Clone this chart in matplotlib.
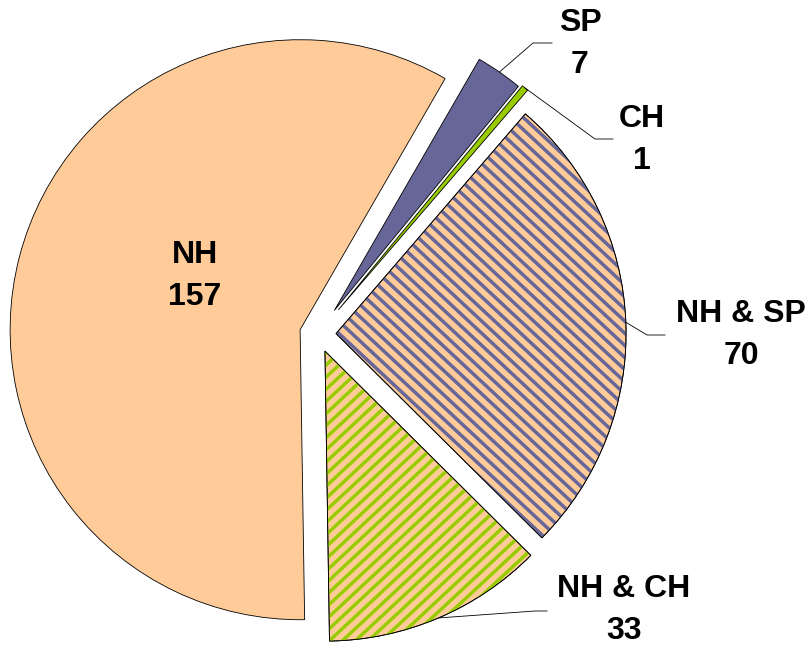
import numpy as np
import matplotlib.pyplot as plt
from matplotlib.patches import Wedge
from matplotlib.collections import LineCollection

plt.rcParams['font.family'] = ['Liberation Sans', 'DejaVu Sans']

# data, clockwise from the top-right
labels = ["SP", "CH", "NH & SP", "NH & CH", "NH"]
counts = [7, 1, 70, 33, 157]
face_colors = ["#666699", "#99CC00", "#FFCC99", "#FFCC99", "#FFCC99"]
stripe_colors = [None, None, "#666699", "#99CC00", None]
stripe_angles = [None, None, -43, 43, None]  # degrees
explode = [0.1, 0.11, 0.063, 0.063, 0.063]  # fraction of radius

W, H = 811, 647
R = 290
CENTER = (317.8, H - 334.3)
STRIPE_STEP = 13.0  # horizontal period in px


def px(p):
    return p[0], H - p[1]


# label layout in pixel coords (x, y from top): text centre, elbow, line end
label_pos = {
    "SP": ((580, 44), (533, 43), (552, 43)),
    "CH": ((642, 140), (595, 139), (613, 139)),
    "NH & SP": ((741, 335), (647, 335), (665, 335)),
    "NH & CH": ((624, 610), (535, 611), (547, 611)),
    "NH": ((195, 276), None, None),
}


def stripes(ax, wedge, color, angle):
    # parallel lines across the wedge, clipped to it
    cx, cy = wedge.center
    r = wedge.r
    t = np.tan(np.deg2rad(angle))
    offs = np.arange(-2.5 * r, 2.5 * r, STRIPE_STEP)
    segs = [[(cx - 1.5 * r + o, cy - 1.5 * r * t), (cx + 1.5 * r + o, cy + 1.5 * r * t)]
            for o in offs]
    lc = LineCollection(segs, colors=color, linewidths=2.5, zorder=wedge.get_zorder())
    ax.add_collection(lc)
    lc.set_clip_path(wedge)


fig = plt.figure(figsize=(W / 100, H / 100), dpi=100)
ax = fig.add_axes([0, 0, 1, 1])

wedges, _ = ax.pie(counts, explode=[e * R for e in explode], colors=face_colors,
                   startangle=60, counterclock=False, radius=R, center=CENTER,
                   wedgeprops=dict(edgecolor="black", linewidth=0.6))

for w, sc, ang in zip(wedges, stripe_colors, stripe_angles):
    if sc is None:
        continue
    stripes(ax, w, sc, ang)
    outline = Wedge(w.center, w.r, w.theta1, w.theta2, fill=False,
                    edgecolor="black", linewidth=0.6, zorder=w.get_zorder() + 0.1)
    ax.add_patch(outline)

for w, lab, n in zip(wedges, labels, counts):
    txt_p, elbow, end = label_pos[lab]
    tx, ty = px(txt_p)
    ax.text(tx, ty, f"{lab}\n{n}", ha="center", va="center", fontsize=23,
            fontweight="bold", linespacing=1.55)
    if elbow is None:
        continue
    mid = np.deg2rad((w.theta1 + w.theta2) / 2)
    sx = w.center[0] + w.r * np.cos(mid)
    sy = w.center[1] + w.r * np.sin(mid)
    ex, ey = px(elbow)
    fx, fy = px(end)
    ax.plot([sx, ex, fx], [sy, ey, fy], color="black", linewidth=0.6)

ax.set_xlim(0, W)
ax.set_ylim(0, H)
ax.set_aspect("equal")
ax.axis("off")

fig.savefig("out.png", dpi=100)
